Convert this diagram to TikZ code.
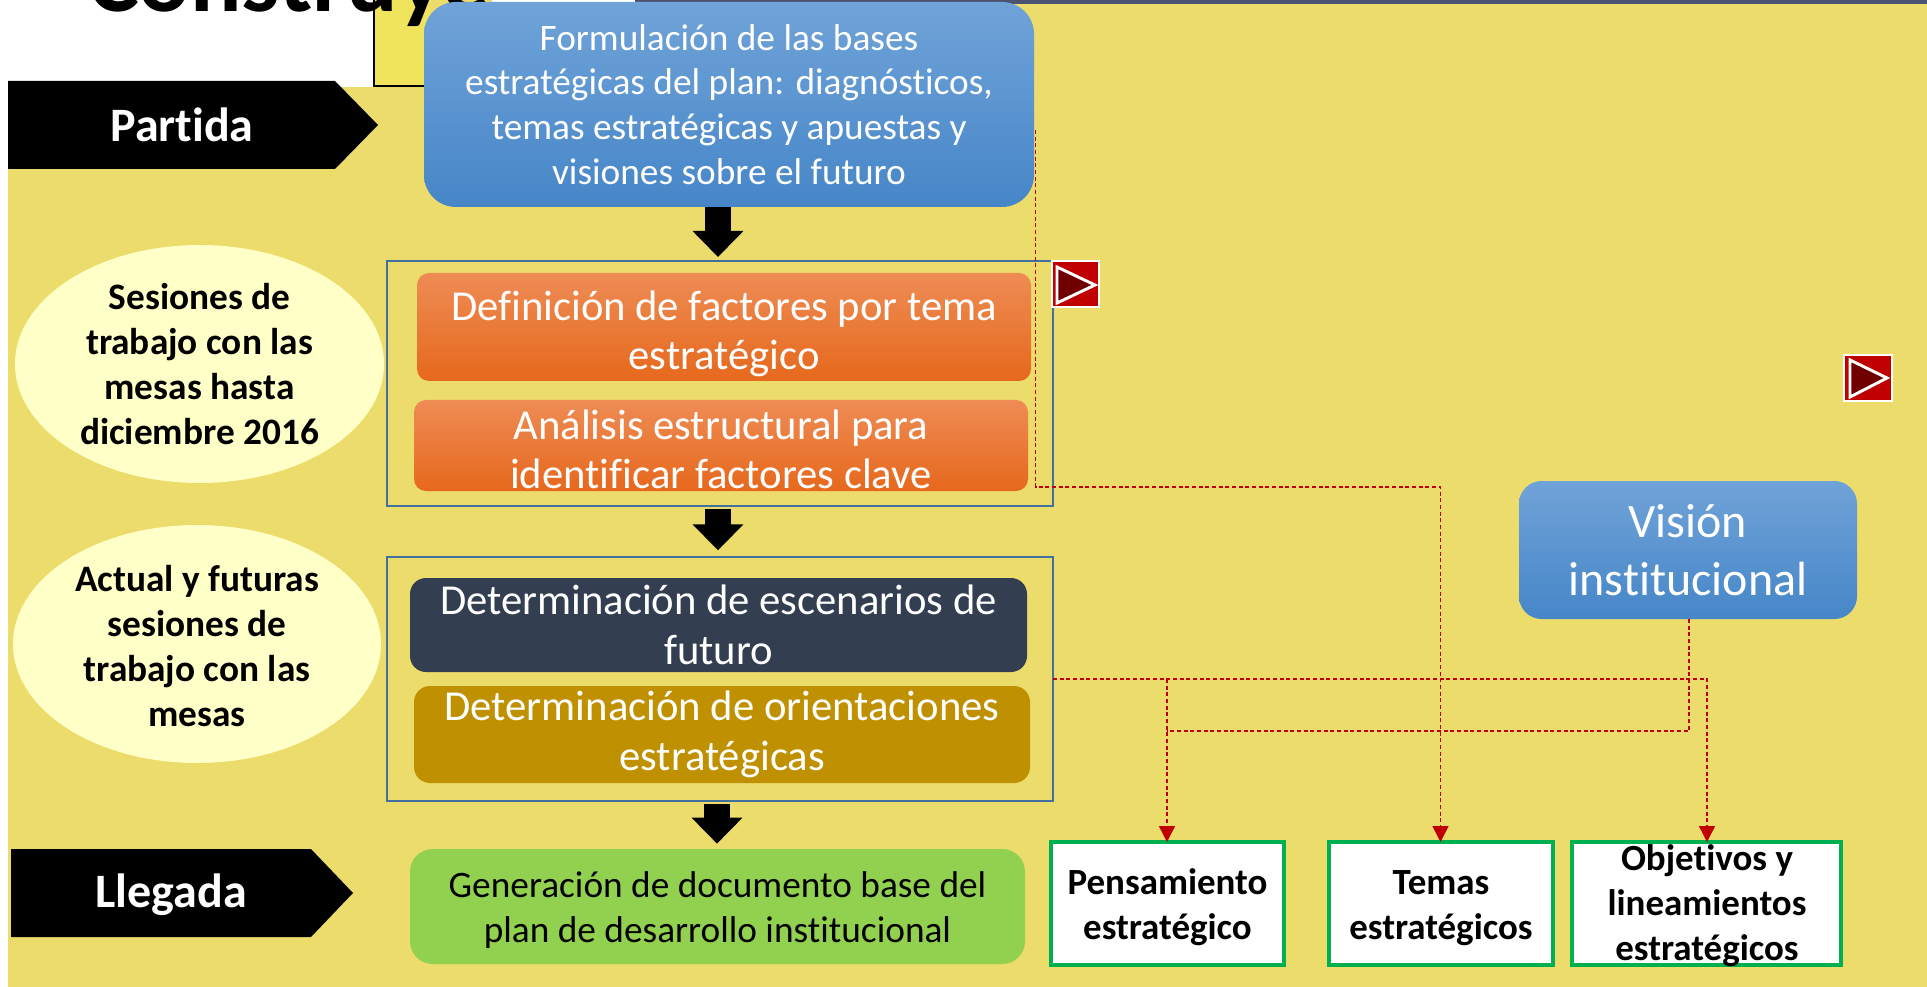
\documentclass[tikz,border=0pt]{standalone}
\usepackage{fontspec}
\setmainfont[Ligatures={NoCommon}]{Carlito}
\usetikzlibrary{calc,arrows.meta,shapes.geometric}
\definecolor{bgy}{HTML}{ECDC6C}
\definecolor{brightY}{HTML}{F0E45C}
\definecolor{topbar}{HTML}{4A5470}
\definecolor{grp}{HTML}{41719C}
\definecolor{redc}{HTML}{C00000}
\definecolor{darkr}{HTML}{700000}
\definecolor{navy}{HTML}{333F50}
\definecolor{gold}{HTML}{BF9000}
\definecolor{lime}{HTML}{92D050}
\definecolor{pale}{HTML}{FFFFC8}
\definecolor{grn}{HTML}{00B050}
\definecolor{bluetop}{RGB}{112,163,216}
\definecolor{bluemid}{RGB}{88,155,222}
\definecolor{bluebot}{RGB}{70,134,200}
\definecolor{ortop}{RGB}{238,140,85}
\definecolor{ormid}{RGB}{248,128,52}
\definecolor{orbot}{RGB}{230,104,28}
\tikzset{
  base/.style={inner sep=0pt,outer sep=0pt,align=center},
  sz/.style 2 args={minimum width=#1*0.75pt,minimum height=#2*0.75pt},
  bluebox/.style={base,rounded corners=24pt,top color=bluetop,middle color=bluemid,bottom color=bluebot,text=white},
  orangebox/.style={base,rounded corners=9pt,top color=ortop,middle color=ormid,bottom color=orbot,text=white,font=\fontsize{32}{36.5}\selectfont},
  flatbox/.style={base,rounded corners=12pt,text=white},
  grpbox/.style={base,draw=grp,line width=2pt},
  outbox/.style={base,draw=grn,line width=2.4pt,fill=white,font=\fontsize{27.7}{33.8}\selectfont\bfseries},
  oval/.style={base,ellipse,fill=pale},
  btn/.style={base,fill=redc,draw=white,line width=2.2pt},
  tri/.style={fill=darkr,draw=white,line width=2.2pt,line join=miter},
  pent/.style={fill=black},
  blockarrow/.style={draw=black,line width=19.5pt,-{Triangle[length=19.5pt,width=37pt]}},
  reddash/.style={draw=redc,line width=1.1pt,dash pattern=on 3pt off 2pt},
  redarrow/.style={reddash,-{Triangle[length=12pt,width=12pt,fill=redc]}},
  ovaltext/.style={base,font=\fontsize{28}{33.7}\selectfont\bfseries},
  pentext/.style={base,text=white,font=\fontsize{36}{40}\selectfont\bfseries},
}
\begin{document}
\begin{tikzpicture}[x=0.75pt,y=-0.75pt]
\useasboundingbox (0,0) rectangle (1927,987);
\begin{scope}
\clip (0,0) rectangle (1927,987);
\fill[white] (0,0) rectangle (1927,987);
\fill[bgy] (8,0) rectangle (1927,987);
% fragment of the slide title behind
\fill[white] (8,0) rectangle (373,87);
\fill[brightY] (373,0) rectangle (430,87);
\fill[white] (492,0) rectangle (635,3);
\fill[topbar] (635,0) rectangle (1927,4);
\draw[black,line width=2pt] (374,0) -- (374,86) -- (430,86);
\node[base,anchor=base west,font=\fontsize{72}{74}\selectfont\bfseries] (title) at (88,12) {Construye};

% left labels
\fill[pent] (8,81) -- (335,81) -- (378,125) -- (335,169) -- (8,169) -- cycle;
\node[pentext] (partida) at (182,125) {Partida};
\fill[pent] (11,849) -- (311,849) -- (353,893) -- (311,937) -- (11,937) -- cycle;
\node[pentext] (llegada) at (171,895) {Llegada};
\node[oval,sz={369}{238}] (ov1) at (199.5,364) {};
\node[ovaltext] (ov1t) at (199.5,364) {Sesiones de\\trabajo con las\\mesas hasta\\diciembre 2016};
\node[oval,sz={368}{238}] (ov2) at (197,644) {};
\node[ovaltext] (ov2t) at (197,646) {Actual y futuras\\sesiones de\\trabajo con las\\mesas};

% group frames
\node[grpbox,sz={666}{245}] (g1) at (720,383.5) {};
\node[grpbox,sz={666}{244}] (g2) at (720,679) {};

% central boxes
\node[bluebox,sz={610}{205},font=\fontsize{28}{33.5}\selectfont] (plan) at (729,104.5) {Formulación de las bases\\estratégicas del plan: diagnósticos,\\temas estratégicas y apuestas y\\visiones sobre el futuro};
\node[orangebox,sz={614}{108}] (fact) at (724,327) {\rule{0pt}{32pt}Definición de factores por tema\\estratégico};
\node[orangebox,sz={614}{91}] (anal) at (721,445.5) {\rule{0pt}{28pt}Análisis estructural para\\identificar factores clave};
\node[flatbox,fill=navy,sz={617}{94},font=\fontsize{32}{37.5}\selectfont] (esc) at (718.5,625) {Determinación de escenarios de\\futuro};
\node[flatbox,fill=gold,sz={616}{97},font=\fontsize{32}{37.5}\selectfont] (ori) at (722,734.5) {Determinación de orientaciones\\estratégicas};
\node[flatbox,fill=lime,rounded corners=17pt,text=black,sz={615}{115},font=\fontsize{28}{33.8}\selectfont] (doc) at (717.5,906.5) {\rule{0pt}{24.5pt}Generación de documento base del\\plan de desarrollo institucional};

% vision
\node[bluebox,rounded corners=17pt,sz={338}{138},font=\fontsize{36}{43}\selectfont] (vis) at (1688,550) {Visión\\institucional};

% outputs
\node[outbox,sz={233}{123}] (pen) at (1167.5,903.5) {\rule{0pt}{25.5pt}Pensamiento\\estratégico};
\node[outbox,sz={224}{123}] (tem) at (1441,903.5) {\rule{0pt}{25.5pt}Temas\\estratégicos};
\node[outbox,sz={269}{123}] (obj) at (1706.5,903.5) {};
\node[base,font=\fontsize{27.7}{33.8}\selectfont\bfseries] (objt) at (1707,906) {Objetivos y\\lineamientos\\estratégicos};

% block arrows
\coordinate (ax) at (718,0);
\coordinate (ay) at (717,0);
\draw[blockarrow,shorten >=3pt] (plan.south -| ax) -- (g1.north -| ax);
\draw[blockarrow,shorten <=2pt,shorten >=5pt] (g1.south -| ax) -- (g2.north -| ax);
\draw[blockarrow,shorten <=2pt,shorten >=4pt] (g2.south -| ay) -- (doc.north -| ay);

% red connectors
\coordinate (ds) at (1035.5,130);
\coordinate (dc) at (1440.5,487);
\coordinate (h1) at (1167,679);
\coordinate (h2) at (1707,679);
\coordinate (vb) at (1689,731);
\draw[redarrow] (ds) |- (dc) -- (tem.north -| dc);
\draw[redarrow] (g2.east |- h1) -- (h2) -- (obj.north -| h2);
\draw[redarrow] (h1) -- (pen.north -| h1);
\draw[reddash] (vis.south -| vb) -- (vb) -- (vb -| h1);

% buttons
\node[btn,sz={47}{46}] (b1) at (1075.5,284) {};
\path[tri] (1057,267) -- (1095,285) -- (1057,303) -- cycle;
\node[btn,sz={48}{46}] (b2) at (1868,378) {};
\path[tri] (1850,360) -- (1887,378) -- (1850,397) -- cycle;
\end{scope}
\end{tikzpicture}
\end{document}
